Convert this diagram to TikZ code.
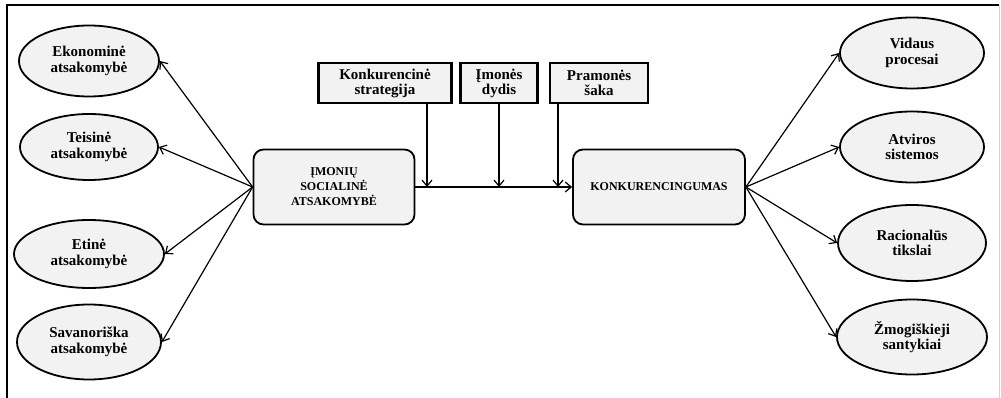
\documentclass[tikz,border=0pt]{standalone}
\usepackage{fontspec}
\setmainfont{Liberation Serif}
\usetikzlibrary{shapes.geometric, arrows.meta}
\usetikzlibrary{positioning}
\definecolor{boxgray}{HTML}{F2F2F2}
\tikzstyle{trait} = [ellipse, draw=black, line width=1.8pt, fill=boxgray, minimum width=144pt, minimum height=71pt, inner sep=0pt, align=center, font=\bfseries\fontsize{15}{15.5}\selectfont]
\tikzstyle{core} = [rectangle, rounded corners=10pt, draw=black, line width=1.8pt, fill=boxgray, minimum height=75pt, align=center, font=\bfseries\fontsize{12}{15}\selectfont]
\tikzstyle{factor} = [rectangle, draw=black, line width=2.4pt, fill=boxgray, minimum height=40pt, inner sep=0pt, align=center, font=\bfseries\fontsize{15}{15}\selectfont]
\tikzstyle{arrow} = [line width=1.2pt, -{Straight Barb[length=6pt,width=10pt]}]
\tikzstyle{frame} = [line width=2.5pt]

\begin{document}
\begin{tikzpicture}[x=1pt, y=-1pt]
 \useasboundingbox (0,0) rectangle (1001,398);
 % frame of the figure
 \draw [frame] (7,398) -- (7,5) -- (999,5);
 \draw [gray!35, line width=0.8pt] (999,5) -- (999,398);

 \node (isa) [core, minimum width=161pt] at (334,187) {ĮMONIŲ\\SOCIALINĖ\\ATSAKOMYBĖ};
 \node (konk) [core, right of=isa, node distance=325pt, minimum width=172pt] {KONKURENCINGUMAS};

 \node (strategija) [factor, minimum width=133pt] at (385,83) {Konkurencinė\\strategija};
 \node (dydis) [factor, right of=strategija, node distance=114pt, minimum width=77pt] {Įmonės\\dydis};
 \node (saka) [factor, right of=dydis, node distance=100pt, minimum width=98pt] {Pramonės\\šaka};

 \node (ekonomine) [trait, minimum width=140pt] at (89,61) {Ekonominė\\atsakomybė};
 \node (teisine) [trait, below of=ekonomine, node distance=86pt, minimum width=138pt, minimum height=66pt] {Teisinė\\atsakomybė};
 \node (etine) [trait, below of=teisine, node distance=107pt, minimum width=150pt, minimum height=68pt] {Etinė\\atsakomybė};
 \node (savanoriska) [trait, below of=etine, node distance=88pt, minimum height=75pt] {Savanoriška\\atsakomybė};

 \node (vidaus) [trait] at (912,53) {Vidaus\\procesai};
 \node (atviros) [trait, below of=vidaus, node distance=94pt] {Atviros\\sistemos};
 \node (racionalus) [trait, below of=atviros, node distance=96pt, minimum width=148pt, minimum height=76pt] {Racionalūs\\tikslai};
 \node (zmogiskieji) [trait, below of=racionalus, node distance=94pt, minimum width=150pt, minimum height=75pt] {Žmogiškieji\\santykiai};

 \draw [arrow] (isa) -- (konk);
 \draw [arrow] ([xshift=42pt]strategija.south) -- ([xshift=42pt]strategija.south |- isa.east);
 \draw [arrow] (dydis.south) -- (dydis.south |- isa.east);
 \draw [arrow] ([xshift=-41pt]saka.south) -- ([xshift=-41pt]saka.south |- isa.east);

 \draw [arrow] (isa.west) -- (ekonomine.east);
 \draw [arrow] (isa.west) -- (teisine.east);
 \draw [arrow] (isa.west) -- (etine.east);
 \draw [arrow] (isa.west) -- (savanoriska.east);

 \draw [arrow] (konk.east) -- (vidaus.west);
 \draw [arrow] (konk.east) -- (atviros.west);
 \draw [arrow] (konk.east) -- (racionalus.west);
 \draw [arrow] (konk.east) -- (zmogiskieji.west);

\end{tikzpicture}
\end{document}
